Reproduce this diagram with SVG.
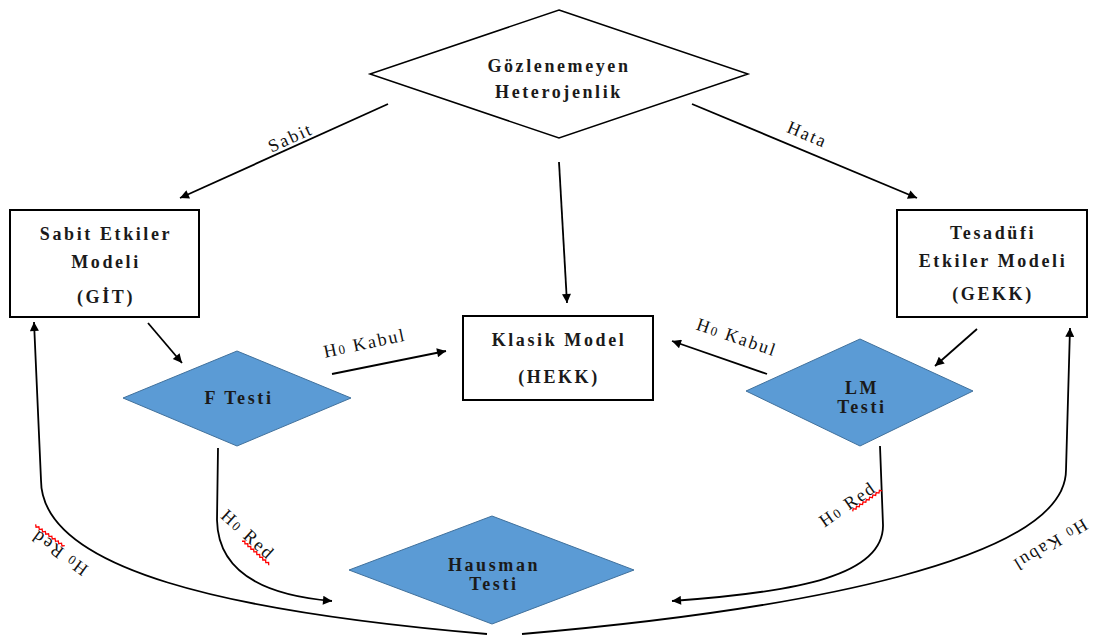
<svg xmlns="http://www.w3.org/2000/svg" width="1093" height="635" viewBox="0 0 1093 635">
<defs>
<marker id="arr" viewBox="0 0 10 10" refX="10" refY="5" markerWidth="12" markerHeight="9" markerUnits="userSpaceOnUse" orient="auto">
<path d="M0,0 L10,5 L0,10 z" fill="#000"/>
</marker>
<style>
.nt{font-family:"Liberation Serif",serif;font-size:18px;font-weight:bold;letter-spacing:2.6px;text-anchor:middle;fill:#1a1a1a}
.lb{font-family:"Liberation Serif",serif;font-size:18px;letter-spacing:2px;text-anchor:middle;fill:#111}
.sub{font-size:13px}
.box{fill:#fff;stroke:#000;stroke-width:2}
.dia{fill:#fff;stroke:#000;stroke-width:1.5}
.blue{fill:#5B9BD5;stroke:#41719C;stroke-width:1}
.ln{fill:none;stroke:#000;stroke-width:1.8}
.sq{fill:none;stroke:#f00;stroke-width:1.3}
</style>
</defs>
<rect width="1093" height="635" fill="#fff"/>

<g id="connectors">
<line class="ln" x1="388" y1="104" x2="180" y2="198" marker-end="url(#arr)"/>
<line class="ln" x1="692" y1="104" x2="917" y2="198" marker-end="url(#arr)"/>
<line class="ln" x1="559" y1="162" x2="567" y2="303" marker-end="url(#arr)"/>
<line class="ln" x1="148" y1="323" x2="182" y2="363" marker-end="url(#arr)"/>
<line class="ln" x1="332" y1="374" x2="446" y2="351" marker-end="url(#arr)"/>
<line class="ln" x1="767" y1="374" x2="672" y2="341" marker-end="url(#arr)"/>
<line class="ln" x1="977" y1="329" x2="935" y2="366" marker-end="url(#arr)"/>
<path class="ln" d="M218,448 L217,520 C218,570 260,595 332,601" marker-end="url(#arr)"/>
<path class="ln" d="M880,446 L883,525 C884,575 800,592 672,601" marker-end="url(#arr)"/>
<path class="ln" d="M487,634 C230,612 41,570 41,480 L34,322" marker-end="url(#arr)"/>
<path class="ln" d="M522,634 C800,610 1066,560 1066,470 L1070,328" marker-end="url(#arr)"/>

<text class="lb" transform="translate(293,143) rotate(-24.5)">Sabit</text>
<text class="lb" transform="translate(805,140) rotate(23)">Hata</text>
<text class="lb" transform="translate(366,349) rotate(-12)">H<tspan class="sub">0</tspan> Kabul</text>
<text class="lb" transform="translate(735,343) rotate(19)">H<tspan class="sub">0</tspan> Kabul</text>
<g transform="translate(244,539) rotate(42)">
<text class="lb">H<tspan class="sub">0</tspan> Red</text>
<path class="sq" d="M0,3 l2,-2 l2,2 l2,-2 l2,2 l2,-2 l2,2 l2,-2 l2,2 l2,-2 l2,2 l2,-2 l2,2 l2,-2 l2,2 l2,-2 l2,2 l2,-2 l2,2"/>
</g>
<g transform="translate(851,509) rotate(-35)">
<text class="lb">H<tspan class="sub">0</tspan> Red</text>
<path class="sq" d="M0,3 l2,-2 l2,2 l2,-2 l2,2 l2,-2 l2,2 l2,-2 l2,2 l2,-2 l2,2 l2,-2 l2,2 l2,-2 l2,2 l2,-2 l2,2 l2,-2 l2,2"/>
</g>
<g transform="translate(63,548) rotate(216)">
<text class="lb">H<tspan class="sub">0</tspan> Red</text>
<path class="sq" d="M0,3 l2,-2 l2,2 l2,-2 l2,2 l2,-2 l2,2 l2,-2 l2,2 l2,-2 l2,2 l2,-2 l2,2 l2,-2 l2,2 l2,-2 l2,2 l2,-2 l2,2"/>
</g>
<text class="lb" transform="translate(1047,540) rotate(149)">H<tspan class="sub">0</tspan> Kabul</text>
</g>

<g id="gozlenemeyen">
<polygon class="dia" points="559,10 748,74 559,138 370,74"/>
<text class="nt" x="559" y="72">Gözlenemeyen</text>
<text class="nt" x="559" y="98">Heterojenlik</text>
</g>

<g id="sabit-etkiler">
<rect class="box" x="10" y="210" width="189" height="107"/>
<text class="nt" x="106" y="240">Sabit Etkiler</text>
<text class="nt" x="106" y="268">Modeli</text>
<text class="nt" x="106" y="303">(GİT)</text>
</g>

<g id="tesadufi-etkiler">
<rect class="box" x="897" y="210" width="190" height="107"/>
<text class="nt" x="993" y="239">Tesadüfi</text>
<text class="nt" x="993" y="267">Etkiler Modeli</text>
<text class="nt" x="993" y="300">(GEKK)</text>
</g>

<g id="klasik-model">
<rect class="box" x="463" y="316" width="190" height="84"/>
<text class="nt" x="559" y="346">Klasik Model</text>
<text class="nt" x="559" y="383">(HEKK)</text>
</g>

<g id="f-testi">
<polygon class="blue" points="237,351 351,398 237,446 123,398"/>
<text class="nt" x="239" y="404">F Testi</text>
</g>

<g id="lm-testi">
<polygon class="blue" points="860,339 973,391 860,446 746,391"/>
<text class="nt" x="862" y="394">LM</text>
<text class="nt" x="862" y="413">Testi</text>
</g>

<g id="hausman-testi">
<polygon class="blue" points="492,516 634,570 492,624 349,570"/>
<text class="nt" x="494" y="571">Hausman</text>
<text class="nt" x="494" y="590">Testi</text>
</g>
</svg>
